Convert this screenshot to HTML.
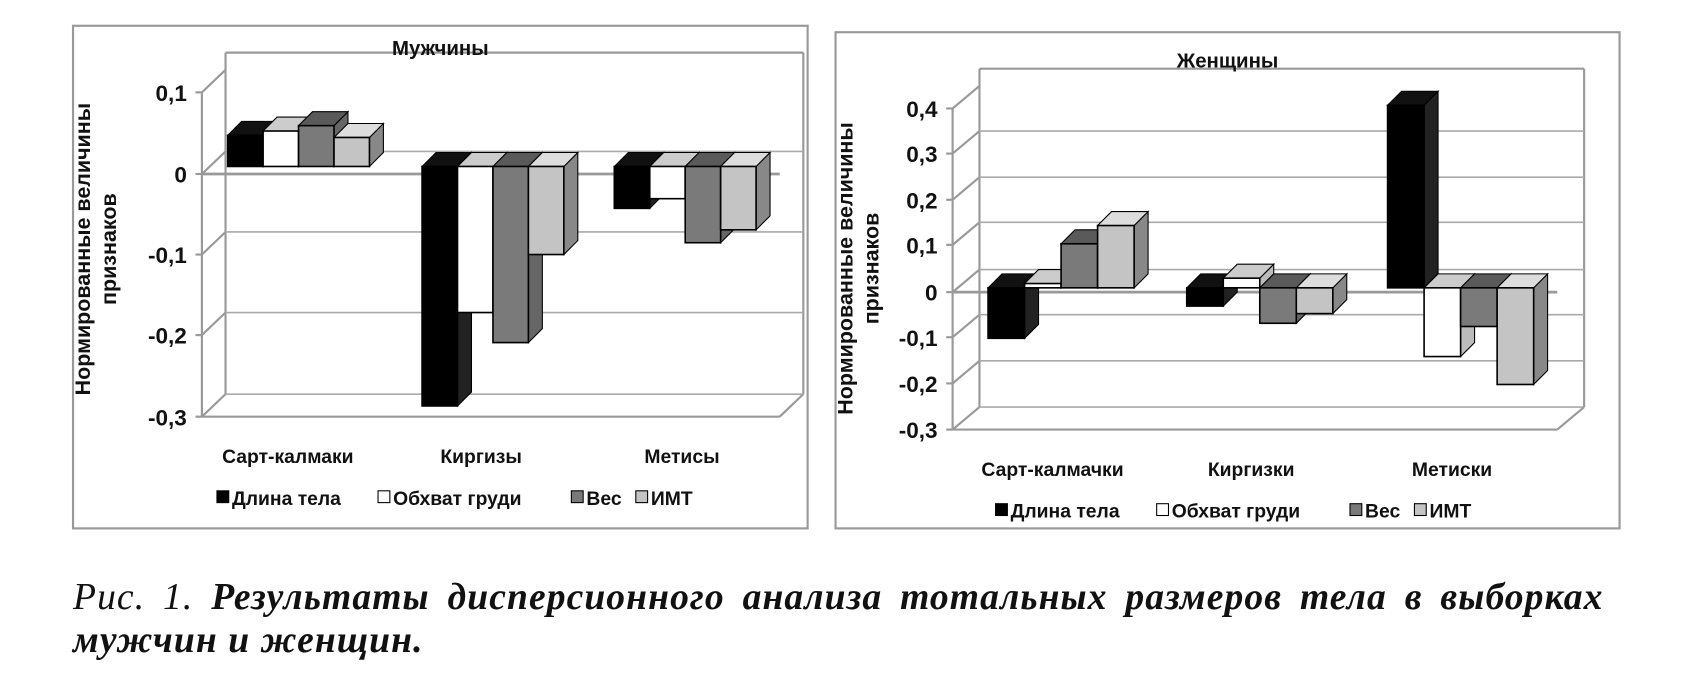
<!DOCTYPE html>
<html><head><meta charset="utf-8"><style>
body{margin:0;background:#fff;width:1684px;height:694px;overflow:hidden}
#w{position:absolute;left:0;top:0;width:1568px;height:646px;transform:scale(1.07398);transform-origin:0 0}
svg{position:absolute;left:0;top:0}
.cap{position:absolute;left:68px;width:1425px;top:536px;font-family:"Liberation Serif",serif;font-size:35px;letter-spacing:1px;line-height:40px;text-align:justify;text-align-last:left;color:#111}
</style></head><body>
<div id="w">
<svg id="s" width="1568" height="646" xmlns="http://www.w3.org/2000/svg" font-family="Liberation Sans, sans-serif" font-weight="bold" fill="#111"></svg>
<div class="cap"><i>Рис. 1. <b>Результаты дисперсионного анализа тотальных размеров тела в выборках мужчин и женщин.</b></i></div>
</div>
<script>
var s=document.getElementById('s'),h='';
function L(a,b,c,d,col,w){h+='<line x1="'+a+'" y1="'+b+'" x2="'+c+'" y2="'+d+'" stroke="'+(col||'#999')+'" stroke-width="'+(w||2)+'"/>';}
function T(x,y,t,sz,anc,extra){h+='<text x="'+x+'" y="'+y+'" font-size="'+sz+'" text-anchor="'+(anc||'start')+'" '+(extra||'')+'>'+t+'</text>';}
var cols=[['#000','#111','#222'],['#fff','#ccc','#bbb'],['#7a7a7a','#5a5a5a','#666'],['#c4c4c4','#ddd','#888']];
function bar(x,w,base,top,c,d){
 var y1=Math.min(base,top),y2=Math.max(base,top);
 h+='<polygon points="'+(x+w)+','+y1+' '+(x+w+d)+','+(y1-d)+' '+(x+w+d)+','+(y2-d)+' '+(x+w)+','+y2+'" fill="'+c[2]+'" stroke="#000" stroke-width="1"/>';
 h+='<polygon points="'+x+','+y1+' '+(x+d)+','+(y1-d)+' '+(x+w+d)+','+(y1-d)+' '+(x+w)+','+y1+'" fill="'+c[1]+'" stroke="#000" stroke-width="1"/>';
 h+='<rect x="'+x+'" y="'+y1+'" width="'+w+'" height="'+(y2-y1)+'" fill="'+c[0]+'" stroke="#000" stroke-width="1.5"/>';
}
function chart(o){
 h+='<rect x="'+o.bx+'" y="'+o.by+'" width="'+o.bw+'" height="'+o.bh+'" fill="#fff" stroke="#999" stroke-width="2"/>';
 var dx=o.dx,dy=o.dy;
 L(o.ax+dx,o.ticks[0][1]+dy-16,o.ax+dx,o.ticks[o.ticks.length-1][1]+dy);
 L(o.right,o.ticks[0][1]+dy-16,o.right,o.ticks[o.ticks.length-1][1]+dy);
 L(o.ax+dx,o.ticks[0][1]+dy-16,o.right,o.ticks[0][1]+dy-16);
 o.ticks.forEach(function(t,i){
  L(o.ax,t[1],o.ax+dx,t[1]+dy);
  if(i>0) L(o.ax+dx,t[1]+dy,o.right,t[1]+dy,'#aaa',1.5);
  L(o.ax-6,t[1],o.ax,t[1]);
  T(o.ax-14,t[1]+8,t[0],21,'end');
 });
 L(o.ax,o.ticks[0][1],o.ax,o.ticks[o.ticks.length-1][1]);
 var bot=o.ticks[o.ticks.length-1][1];
 L(o.ax,bot,o.right-dx,bot);L(o.right-dx,bot,o.right,bot+dy);
 L(o.ax,o.zero,o.right-dx,o.zero,'#999',2.5);
 T(o.bx+o.bw/2,o.ty,o.title,19,'middle');
 h+='<text transform="translate('+o.ylx+','+o.yly+') rotate(-90)" font-size="20" text-anchor="middle"><tspan x="0" dy="-11">Нормированные величины</tspan><tspan x="0" dy="24">признаков</tspan></text>';
 o.bars.forEach(function(g){g[1].forEach(function(v,i){bar(g[0]+i*o.bwid,o.bwid,o.base,v,cols[i],o.d);});});
 o.cats.forEach(function(c){T(c[0],o.cy,c[1],18,'middle');});
 var lx=o.lx,items=[['Длина тела',0,150],['Обхват груди',1,180],['Вес',2,60],['ИМТ',3,60]];
 items.forEach(function(it){
  h+='<rect x="'+lx+'" y="'+(o.ly-13)+'" width="11" height="11" fill="'+cols[it[1]][0]+'" stroke="#000" stroke-width="1"/>';
  T(lx+14,o.ly,it[0],18);lx+=it[2];
 });
}
chart({bx:68,by:24,bw:684,bh:468,ax:188,dx:22,dy:-21,right:748,title:'Мужчины',ty:51,
 ticks:[['0,1',86],['0',162],['-0,1',237],['-0,2',312],['-0,3',388]],zero:162,
 ylx:95,yly:232,base:155,bwid:33,d:13,
 bars:[[212,[126,122,117,128]],[393,[378,291,319,237]],[572,[194,185,226,214]]],
 cats:[[268,'Сарт-калмаки'],[448,'Киргизы'],[635,'Метисы']],cy:431,lx:202,ly:470});
chart({bx:778,by:30,bw:730,bh:462,ax:887,dx:25,dy:-21,right:1475,title:'Женщины',ty:63,
 ticks:[['0,4',101],['0,3',143],['0,2',186],['0,1',228],['0',272],['-0,1',314],['-0,2',357],['-0,3',400]],zero:272,
 ylx:805,yly:250,base:268,bwid:34,d:13,
 bars:[[920,[315,264,227,210]],[1105,[285,259,301,292]],[1292,[98,332,304,358]]],
 cats:[[980,'Сарт-калмачки'],[1165,'Киргизки'],[1352,'Метиски']],cy:443,lx:927,ly:482});
s.innerHTML=h;
</script>
</body></html>
